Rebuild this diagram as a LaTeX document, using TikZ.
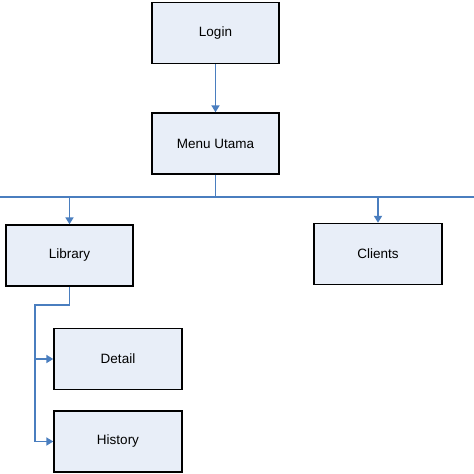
\documentclass[tikz,border=0pt]{standalone}
\usepackage{fontspec}
\setmainfont{Liberation Sans}
\usetikzlibrary{arrows.meta}
\definecolor{boxfill}{HTML}{E8EEF8}
\definecolor{linkblue}{HTML}{4A7EBF}
\tikzset{
  box/.style={draw=black, line width=1.4pt, fill=boxfill, minimum width=127pt, minimum height=61pt, inner sep=0pt, font=\fontsize{13.5}{16}\selectfont},
  link/.style={draw=linkblue, line width=1.8pt},
  arr/.style={link, -{Triangle[width=8pt,length=7pt]}}
}
\begin{document}
\begin{tikzpicture}[x=1pt,y=-1pt]
\useasboundingbox (0,0) rectangle (474,474);
\node[box] (login) at (215.5,33) {Login};
\node[box] (menu) at (215.5,143.5) {Menu Utama};
\node[box] (library) at (69.5,255.5) {Library};
\node[box, minimum width=128pt] (clients) at (378,254) {Clients};
\node[box, minimum width=128pt] (detail) at (118,359) {Detail};
\node[box, minimum width=128pt] (history) at (118,441.5) {History};
\coordinate (hl) at (0,197);
\coordinate (hr) at (474,197);
\coordinate (bend) at (35,305);
\draw[arr] (login.south) -- (menu.north);
\draw[link] (menu.south) -- (menu.south |- hl);
\draw[link] (hl) -- (hr);
\draw[arr] (library.north |- hl) -- (library.north);
\draw[arr] (clients.north |- hl) -- (clients.north);
\draw[link] (library.south) -- (library.south |- bend) -- (bend) -- (bend |- history.west);
\draw[arr] (bend |- detail.west) -- (detail.west);
\draw[arr] (bend |- history.west) -- (history.west);
\end{tikzpicture}
\end{document}
